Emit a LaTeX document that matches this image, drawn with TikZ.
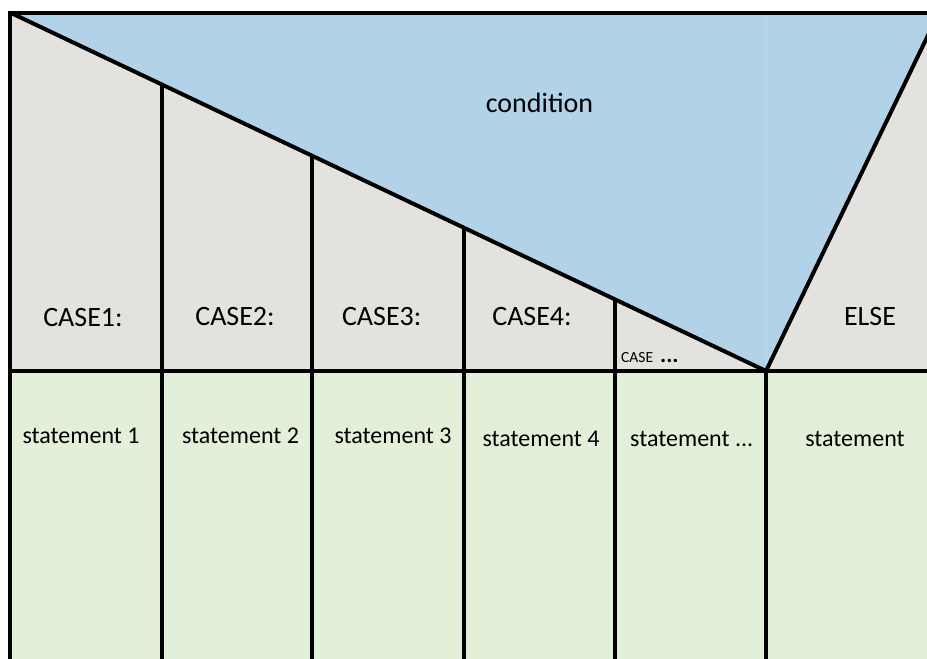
\documentclass[tikz,border=0pt]{standalone}
\usepackage{fontspec}
\setmainfont{Carlito}
\definecolor{condblue}{RGB}{178,210,231}
\definecolor{casegrey}{RGB}{227,226,223}
\definecolor{stmtgreen}{RGB}{226,240,218}
\definecolor{seam}{RGB}{190,218,236}

\begin{document}
\begin{tikzpicture}[x=1pt,y=-1pt,
  rule/.style={line width=4pt, black, line join=miter},
  biglabel/.style={anchor=base, inner sep=0pt, font=\fontsize{28}{28}\selectfont},
  stmtlabel/.style={anchor=base, inner sep=0pt, font=\fontsize{24}{24}\selectfont},
  smalllabel/.style={anchor=base west, inner sep=0pt, font=\fontsize{15.5}{15.5}\selectfont}]
\useasboundingbox (0,0) rectangle (927,659);

% corner points of the structogram
\coordinate (tl) at (10,12.5);
\coordinate (apex) at (766,371);
\coordinate (tr) at (939,12.5);
\coordinate (ml) at (10,371);
\coordinate (mr) at (927,371);
\coordinate (bl) at (10,659);

% column separators: top on the diagonal, bottom at the lower edge
\coordinate (c1t) at (162,84.6);   \coordinate (c1b) at (162,659);
\coordinate (c2t) at (312,155.7);  \coordinate (c2b) at (312,659);
\coordinate (c3t) at (464,227.8);  \coordinate (c3b) at (464,659);
\coordinate (c4t) at (614.5,299.2);\coordinate (c4b) at (614.5,659);
\coordinate (c5b) at (766,659);

\begin{scope}
\clip (0,0) rectangle (927,659);
% fills
\fill[casegrey] (tl) rectangle (mr);
\fill[stmtgreen] (ml) rectangle (927,659);
\fill[condblue] (tl) -- (tr) -- (apex) -- cycle;
\draw[seam, line width=0.8pt] (766,14) -- (766,369);

% outline and separators
\draw[rule] (927,12.5) -- (tl) -- (bl);
\draw[rule] (tl) -- (apex) -- (tr);
\draw[rule] (ml) -- (mr);
\draw[rule] (c1t) -- (c1b);
\draw[rule] (c2t) -- (c2b);
\draw[rule] (c3t) -- (c3b);
\draw[rule] (c4t) -- (c4b);
\draw[rule] (apex) -- (c5b);
\end{scope}

% labels
\node[biglabel] (cond) at (539.5,112) {condition};
\node[biglabel] (case1) at (83,326.5) {CASE1:};
\node[biglabel] (case2) at (235,325.5) {CASE2:};
\node[biglabel] (case3) at (381.7,325.5) {CASE3:};
\node[biglabel] (case4) at (532,325.5) {CASE4:};
\node[smalllabel] (casex) at (621,362.7) {CASE\hspace{7pt}{\bfseries\fontsize{23}{23}\selectfont ...}};
\node[biglabel] (else) at (870,325.5) {ELSE};

\node[stmtlabel] (st1) at (81,443) {statement 1};
\node[stmtlabel] (st2) at (240.5,443) {statement 2};
\node[stmtlabel] (st3) at (393,443) {statement 3};
\node[stmtlabel] (st4) at (541,446) {statement 4};
\node[stmtlabel] (stx) at (691.7,446) {statement ...};
\node[stmtlabel] (stelse) at (855,446) {statement};
\end{tikzpicture}
\end{document}
